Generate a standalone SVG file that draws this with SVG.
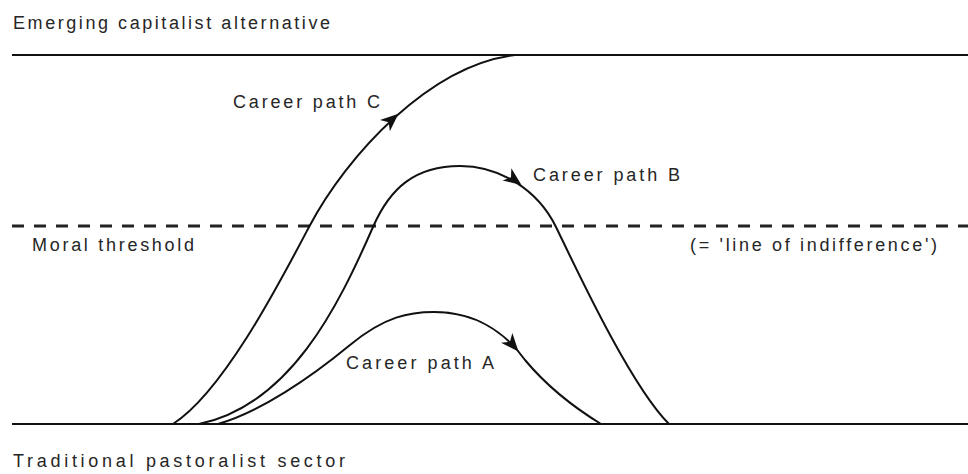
<svg xmlns="http://www.w3.org/2000/svg" xmlns:xlink="http://www.w3.org/1999/xlink" width="968" height="474" viewBox="0 0 968 474">
  <style>
    .lbl { font-family: "Liberation Sans", Arial, sans-serif; font-size: 18px; fill: #262626; }
    .rail { stroke: #111; stroke-width: 2; fill: none; }
    .thr { stroke: #222; stroke-width: 3; stroke-dasharray: 12 10; fill: none; }
    .path { stroke: #111; stroke-width: 2; fill: none; }
    .head { fill: #111; }
  </style>
  <defs>
    <path id="ah" d="M0,0 L-18,-7.5 L-13,0 L-18,7.5 Z"/>
  </defs>
  <rect width="968" height="474" fill="#fff"/>

  <g id="sector-top">
    <line class="rail" x1="12" y1="55" x2="968" y2="55"/>
    <text class="lbl" x="13" y="29" textLength="317" lengthAdjust="spacing">Emerging capitalist alternative</text>
  </g>
  <g id="sector-bottom">
    <line class="rail" x1="12" y1="424" x2="968" y2="424"/>
    <text class="lbl" x="13" y="467" textLength="332" lengthAdjust="spacing">Traditional pastoralist sector</text>
  </g>
  <g id="threshold">
    <line class="thr" x1="12" y1="226" x2="968" y2="226"/>
    <text class="lbl" x="32" y="251" textLength="162" lengthAdjust="spacing">Moral threshold</text>
    <text class="lbl" x="690" y="251" textLength="247" lengthAdjust="spacing">(= 'line of indifference')</text>
  </g>

  <g id="connectors">
    <g id="path-c">
      <path class="path" d="M173,424 C223,392 279,284 309,227 C347,155 430,65 515,55"/>
      <use xlink:href="#ah" href="#ah" class="head" transform="translate(398.5,113.8) rotate(-41)"/>
    </g>
    <g id="path-b">
      <path class="path" d="M199,424 C290,405 338,307 373,227 C390,188 415,166 460,166 C500,166 538,190 556,227 C575,266 630,385 669,424"/>
      <use xlink:href="#ah" href="#ah" class="head" transform="translate(521.5,185) rotate(36)"/>
    </g>
    <g id="path-a">
      <path class="path" d="M218,424 C260,412 310,378 350,345 C385,316 410,312 434,312 C475,312 505,332 525,360 C545,384 570,405 601,424"/>
      <use xlink:href="#ah" href="#ah" class="head" transform="translate(518.5,351.5) rotate(49)"/>
    </g>
  </g>

  <g id="label-c"><text class="lbl" x="233" y="108" textLength="147" lengthAdjust="spacing">Career path C</text></g>
  <g id="label-b"><text class="lbl" x="533" y="181" textLength="147" lengthAdjust="spacing">Career path B</text></g>
  <g id="label-a"><text class="lbl" x="346" y="369" textLength="148" lengthAdjust="spacing">Career path A</text></g>
</svg>
